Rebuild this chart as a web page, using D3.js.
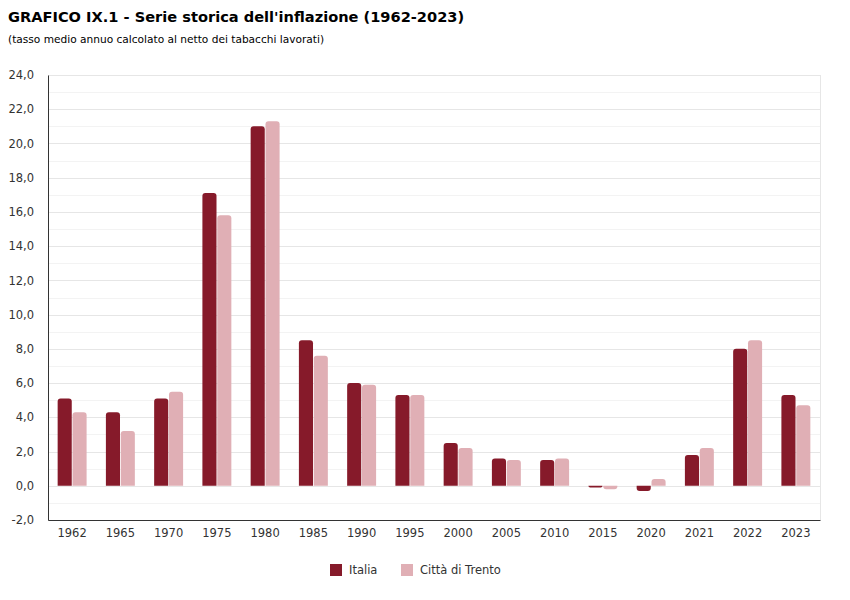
<!DOCTYPE html>
<html>
	<head>
		<meta charset="utf-8">
		<title>GRAFICO IX.1</title>
		<style>
			body { margin: 0; background: #fff; }
			svg text { font-family: Verdana, "DejaVu Sans", sans-serif; fill: #333; }
		</style>
		<script src="https://d3js.org/d3.v7.min.js"></script>
	</head>
	<body>
		<svg id="chart" width="850" height="600"></svg>
		<script>
		// dati
		var anni = ["1962", "1965", "1970", "1975", "1980", "1985", "1990", "1995", "2000", "2005", "2010", "2015", "2020", "2021", "2022", "2023"];
		var italia = [5.1, 4.3, 5.1, 17.1, 21.0, 8.5, 6.0, 5.3, 2.5, 1.6, 1.5, -0.1, -0.3, 1.8, 8.0, 5.3];
		var trento = [4.3, 3.2, 5.5, 15.8, 21.3, 7.6, 5.9, 5.3, 2.2, 1.5, 1.6, -0.2, 0.4, 2.2, 8.5, 4.7];
		var serie = ["Italia", "Città di Trento"];
		var colori = ["#861a2a", "#e0afb5"];
		var yTicks = [-2, 0, 2, 4, 6, 8, 10, 12, 14, 16, 18, 20, 22, 24];

		var svg = d3.select("#chart");
		var pLeft = 48, pRight = 820, pTop = 75, pBottom = 520;

		var x = d3.scaleBand().domain(anni).range([pLeft, pRight]).paddingInner(0.4).paddingOuter(0.2);
		var xs = d3.scaleBand().domain(serie).range([0, x.bandwidth()]).paddingInner(0.05);
		var y = d3.scaleLinear().domain([-2, 24]).range([pBottom, pTop]);

		// titolo
		svg.append("text").attr("x", 8).attr("y", 22)
			.style("font-size", "14.6px").style("font-weight", "bold").style("fill", "#000")
			.text("GRAFICO IX.1 - Serie storica dell'inflazione (1962-2023)");
		svg.append("text").attr("x", 8).attr("y", 43)
			.style("font-size", "10.6px").style("fill", "#000")
			.text("(tasso medio annuo calcolato al netto dei tabacchi lavorati)");

		// griglia (linee secondarie ogni 1, principali ogni 2)
		svg.append("g").selectAll("line").data(d3.range(-1, 24, 2)).enter().append("line")
			.attr("x1", pLeft).attr("x2", pRight)
			.attr("y1", function(d){ return Math.round(y(d)) + 0.5; }).attr("y2", function(d){ return Math.round(y(d)) + 0.5; })
			.attr("stroke", "#f3f3f3");
		svg.append("g").selectAll("line").data(yTicks).enter().append("line")
			.attr("x1", pLeft).attr("x2", pRight)
			.attr("y1", function(d){ return Math.round(y(d)) + 0.5; }).attr("y2", function(d){ return Math.round(y(d)) + 0.5; })
			.attr("stroke", "#e6e6e6");
		svg.append("line").attr("x1", pRight + 0.5).attr("x2", pRight + 0.5).attr("y1", pTop).attr("y2", pBottom)
			.attr("stroke", "#e6e6e6");

		// barre con angoli arrotondati sul lato esterno
		function barPath(x0, w, v) {
			var y0 = y(0), y1 = y(v), r = Math.min(3, Math.abs(y1 - y0), w / 2);
			var s = v >= 0 ? 1 : -1;
			return "M" + x0 + "," + y0 + "V" + (y1 + s * r) + "Q" + x0 + "," + y1 + " " + (x0 + r) + "," + y1 +
				"H" + (x0 + w - r) + "Q" + (x0 + w) + "," + y1 + " " + (x0 + w) + "," + (y1 + s * r) + "V" + y0 + "Z";
		}
		[italia, trento].forEach(function(vals, s){
			svg.append("g").selectAll("path").data(vals).enter().append("path")
				.attr("d", function(d, i){ return barPath(x(anni[i]) + xs(serie[s]), xs.bandwidth(), d); })
				.attr("fill", colori[s]);
		});

		// assi
		var yAxis = svg.append("g").attr("transform", "translate(" + pLeft + ",0)")
			.call(d3.axisLeft(y).tickValues(yTicks).tickSize(0).tickPadding(14)
				.tickFormat(function(d){ return d.toFixed(1).replace(".", ","); }));
		yAxis.select(".domain").attr("stroke", "#333");
		yAxis.selectAll("text").style("font-size", "11.5px");

		var xAxis = svg.append("g").attr("transform", "translate(0," + pBottom + ")")
			.call(d3.axisBottom(x).tickSize(0).tickPadding(9));
		xAxis.select(".domain").attr("stroke", "#333");
		xAxis.selectAll("text").style("font-size", "11.5px");

		// legenda
		var leg = svg.append("g");
		var legX = [330, 401];
		serie.forEach(function(s, i){
			leg.append("rect").attr("x", legX[i]).attr("y", 564).attr("width", 12).attr("height", 12).attr("fill", colori[i]);
			leg.append("text").attr("x", legX[i] + 19).attr("y", 574).style("font-size", "11.5px").text(s);
		});
		</script>
	</body>
</html>
